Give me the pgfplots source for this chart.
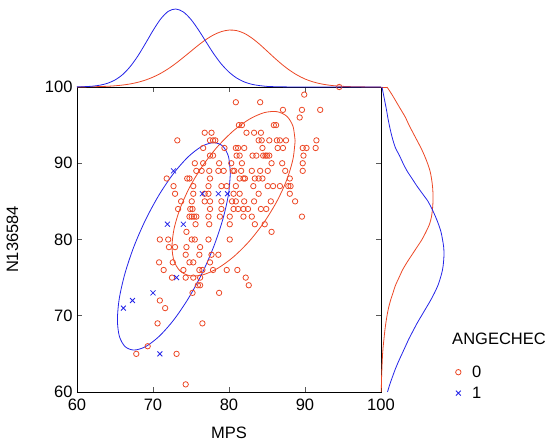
\documentclass[border=0pt]{standalone}
\usepackage{pgfplots}
\pgfplotsset{compat=1.18}
\usepackage{fontspec}
\setmainfont{Liberation Sans}
\definecolor{rc}{RGB}{236,72,38}
\definecolor{bc}{RGB}{36,36,232}
\begin{document}
\begin{tikzpicture}
\path[use as bounding box] (0pt,0pt) rectangle (560pt,443pt);
% ---------------- main scatter axis ----------------
\begin{axis}[
  at={(77pt,51pt)}, anchor=south west, scale only axis,
  width=304pt, height=305pt,
  xmin=60, xmax=100, ymin=60, ymax=100,
  xtick={60,70,80,90,100}, ytick={60,70,80,90,100},
  tick align=inside, major tick length=5pt,
  tick style={black!65, line width=0.8pt},
  axis line style={black, line width=0.8pt},
  clip=false,
  /pgf/number format/assume math mode=true,
  ticklabel style={font=\fontsize{16.5}{19}\selectfont},
  xticklabel style={yshift=-3pt},
  yticklabel style={xshift=-1pt},
  xlabel={MPS}, ylabel={N136584},
  label style={font=\fontsize{16.5}{19}\selectfont},
  xlabel style={at={(axis description cs:0.5,-0.133)}, anchor=center},
  ylabel style={at={(axis description cs:-0.212,0.5)}, anchor=center},
  legend style={at={(axis description cs:1.235,0.10)}, anchor=north west,
     draw=none, fill=none, font=\fontsize{16.5}{19}\selectfont,
     row sep=4pt, /tikz/every odd column/.append style={column sep=9pt}},
  legend cell align=left,
]
\addplot[only marks, mark=o, mark size=2.7pt, rc, mark options={line width=0.8pt}] table {
x y
94.5 100
89.9 99
80.9 98
84.1 98
87.1 97
89.6 97
92.0 97
89.3 96
81.3 95
81.7 95
85.9 95
86.2 95
76.8 94
77.7 94
82.3 94
83.3 94
84.2 94
73.2 93
77.5 93
77.9 93
78.2 93
83.9 93
84.3 93
85.3 93
86.3 93
86.7 93
87.5 93
91.5 93
76.6 92
79.4 92
80.9 92
81.2 92
82.0 92
84.4 92
86.4 92
87.1 92
89.7 92
90.2 92
91.4 92
77.5 91
77.9 91
81.0 91
81.4 91
83.1 91
83.6 91
84.5 91
84.8 91
85.0 91
85.3 91
89.8 91
75.5 90
76.6 90
78.7 90
80.3 90
81.7 90
85.6 90
87.0 90
89.7 90
75.7 89
76.4 89
77.4 89
78.6 89
79.3 89
80.5 89
80.7 89
81.6 89
83.0 89
84.1 89
85.1 89
87.4 89
89.7 89
71.8 88
74.5 88
74.8 88
77.5 88
81.4 88
81.9 88
82.1 88
83.4 88
83.9 88
84.4 88
88.0 88
72.7 87
75.3 87
77.3 87
79.0 87
79.7 87
80.9 87
83.2 87
85.1 87
85.8 87
86.7 87
87.8 87
88.1 87
72.9 86
75.3 86
76.8 86
77.3 86
80.6 86
81.4 86
83.9 86
88.0 86
73.7 85
75.1 85
76.8 85
77.5 85
79.0 85
80.4 85
80.9 85
82.0 85
83.3 85
85.5 85
88.7 85
73.3 84
74.9 84
75.2 84
77.5 84
79.0 84
80.6 84
81.2 84
81.9 84
82.5 84
84.2 84
84.9 84
74.8 83
75.1 83
75.4 83
75.7 83
77.3 83
78.8 83
80.1 83
81.9 83
83.0 83
89.6 83
75.6 82
77.4 82
80.1 82
83.4 82
84.7 82
74.4 81
85.6 81
70.9 80
72.0 80
75.1 80
75.5 80
77.3 80
80.1 80
72.1 79
72.9 79
74.4 79
76.2 79
74.3 78
76.1 78
77.7 78
78.6 78
70.8 77
72.6 77
74.8 77
75.3 77
77.5 77
71.4 76
74.0 76
76.1 76
76.5 76
77.9 76
79.7 76
81.1 76
72.5 75
74.3 75
75.3 75
76.2 75
82.2 75
75.9 74
76.2 74
82.6 74
75.2 73
78.7 73
70.9 72
71.6 71
70.6 69
76.5 69
69.3 66
67.8 65
73.1 65
74.3 61
};
\addlegendentry{0}
\addplot[only marks, mark=x, mark size=3.5pt, bc, mark options={line width=0.8pt}] table {
x y
72.7 89
71.9 82
74.0 82
76.5 86
78.6 86
79.8 86
73.1 75
70.0 73
67.3 72
66.1 71
70.9 65
};
\addlegendentry{1}
% red ellipse
\addplot[smooth, rc, line width=0.8pt, forget plot] coordinates {
(88.70,92.94) (88.42,94.85) (87.62,96.15) (86.33,96.76) (84.65,96.64)
(82.70,95.79) (80.60,94.27) (78.50,92.19) (76.55,89.69) (74.87,86.94)
(73.59,84.13) (72.78,81.44) (72.50,79.06) (72.78,77.15) (73.59,75.85)
(74.87,75.24) (76.55,75.36) (78.50,76.21) (80.60,77.73) (82.70,79.81)
(84.65,82.31) (86.33,85.06) (87.62,87.87) (88.42,90.56) (88.70,92.94)
};
% blue ellipse
\addplot[smooth, bc, line width=0.8pt, forget plot] coordinates {
(80.18,88.72) (79.93,90.88) (79.18,92.24) (78.00,92.70) (76.47,92.24)
(74.67,90.88) (72.75,88.72) (70.83,85.90) (69.04,82.62) (67.50,79.10)
(66.32,75.58) (65.57,72.30) (65.32,69.48) (65.57,67.32) (66.32,65.96)
(67.50,65.50) (69.04,65.96) (70.83,67.32) (72.75,69.48) (74.67,72.30)
(76.47,75.58) (78.00,79.10) (79.18,82.62) (79.93,85.90) (80.18,88.72)
};
\end{axis}
% ---------------- top marginal ----------------
\begin{axis}[
  at={(77pt,356pt)}, anchor=south west, scale only axis,
  width=304pt, height=87pt,
  xmin=60, xmax=100, ymin=0, ymax=87,
  hide axis, clip=false,
]
\addplot[smooth, rc, line width=0.8pt] coordinates {
(60,0.06) (62,0.22) (64,0.71) (65,1.19) (66,1.94) (67,3.06) (68,4.67) (69,6.9)
(70,9.86) (71,13.6) (72,18.2) (73,23.6) (74,29.6) (75,35.8) (76,42.0) (77,47.6)
(78,52.2) (79,55.4) (80,56.9) (81,56.4) (82,53.7) (83,49.0) (84,42.9) (85,36.0)
(86,29.0) (87,22.4) (88,16.6) (89,11.8) (90,8.0) (91,5.25) (92,3.3) (93,2.0)
(94,1.14) (95,0.63) (96,0.34) (98,0.08) (100,0.01)
};
\addplot[smooth, bc, line width=0.8pt] coordinates {
(60,0.13) (61,0.33) (62,0.8) (63,1.78) (64,3.67) (65,7.02) (66,12.4) (67,20.4)
(68,30.9) (69,43.4) (70,56.4) (71,67.9) (72,75.6) (73,78.0) (74,75.0) (75,67.5)
(76,56.9) (77,44.9) (78,33.1) (79,22.9) (80,14.9) (81,9.0) (82,5.1) (83,2.7)
(84,1.4) (85,0.6) (86,0.3) (88,0.05) (90,0) (100,0)
};
\end{axis}
% ---------------- right marginal ----------------
\begin{axis}[
  at={(381pt,51pt)}, anchor=south west, scale only axis,
  width=100pt, height=305pt,
  xmin=0, xmax=100, ymin=60, ymax=100,
  hide axis, clip=false,
]
\addplot[rc, line width=0.8pt] coordinates {(0,100) (6,100)};
\addplot[smooth, rc, line width=0.8pt] coordinates {
(6,100) (11,99) (15.5,98) (20,97) (24.5,96) (28,95) (32,94) (36,93) (40,92)
(43.5,91) (46.5,90) (49,89) (50.5,88) (51.5,87) (52,86) (52,85) (51.5,84)
(50.5,83) (48.5,82) (45,81) (41,80) (36,79) (31,78) (26,77) (21.5,76) (18,75)
(14.5,74) (12,73) (9.5,72) (7.5,71) (6,70) (4.8,69) (3.8,68) (3,67) (2.2,66)
(1.6,65) (1.2,64) (0.9,63) (0.6,62) (0.4,61) (0.3,60)
};
\addplot[smooth, bc, line width=0.8pt] coordinates {
(1,100) (2.5,99) (4,98) (5.5,97) (6.8,96) (8.3,95) (10,94) (12,93) (14.5,92)
(18.5,91) (22,90) (26,89) (31,88) (36,87) (41.5,86) (47,85) (51,84) (54.5,83)
(57.5,82) (60,81) (61.5,80) (62.7,79) (63,78) (62.5,77) (61.5,76) (59.5,75)
(57,74) (53.5,73) (49.5,72) (45,71) (40.5,70) (36,69) (32,68) (28,67) (24.5,66)
(21,65) (17.5,64) (14.3,63) (11.5,62) (8.8,61) (6.5,60)
};
\end{axis}
\node[font=\fontsize{16.5}{19}\selectfont, anchor=center] at (499pt,104pt) {ANGECHEC};
\end{tikzpicture}
\end{document}
